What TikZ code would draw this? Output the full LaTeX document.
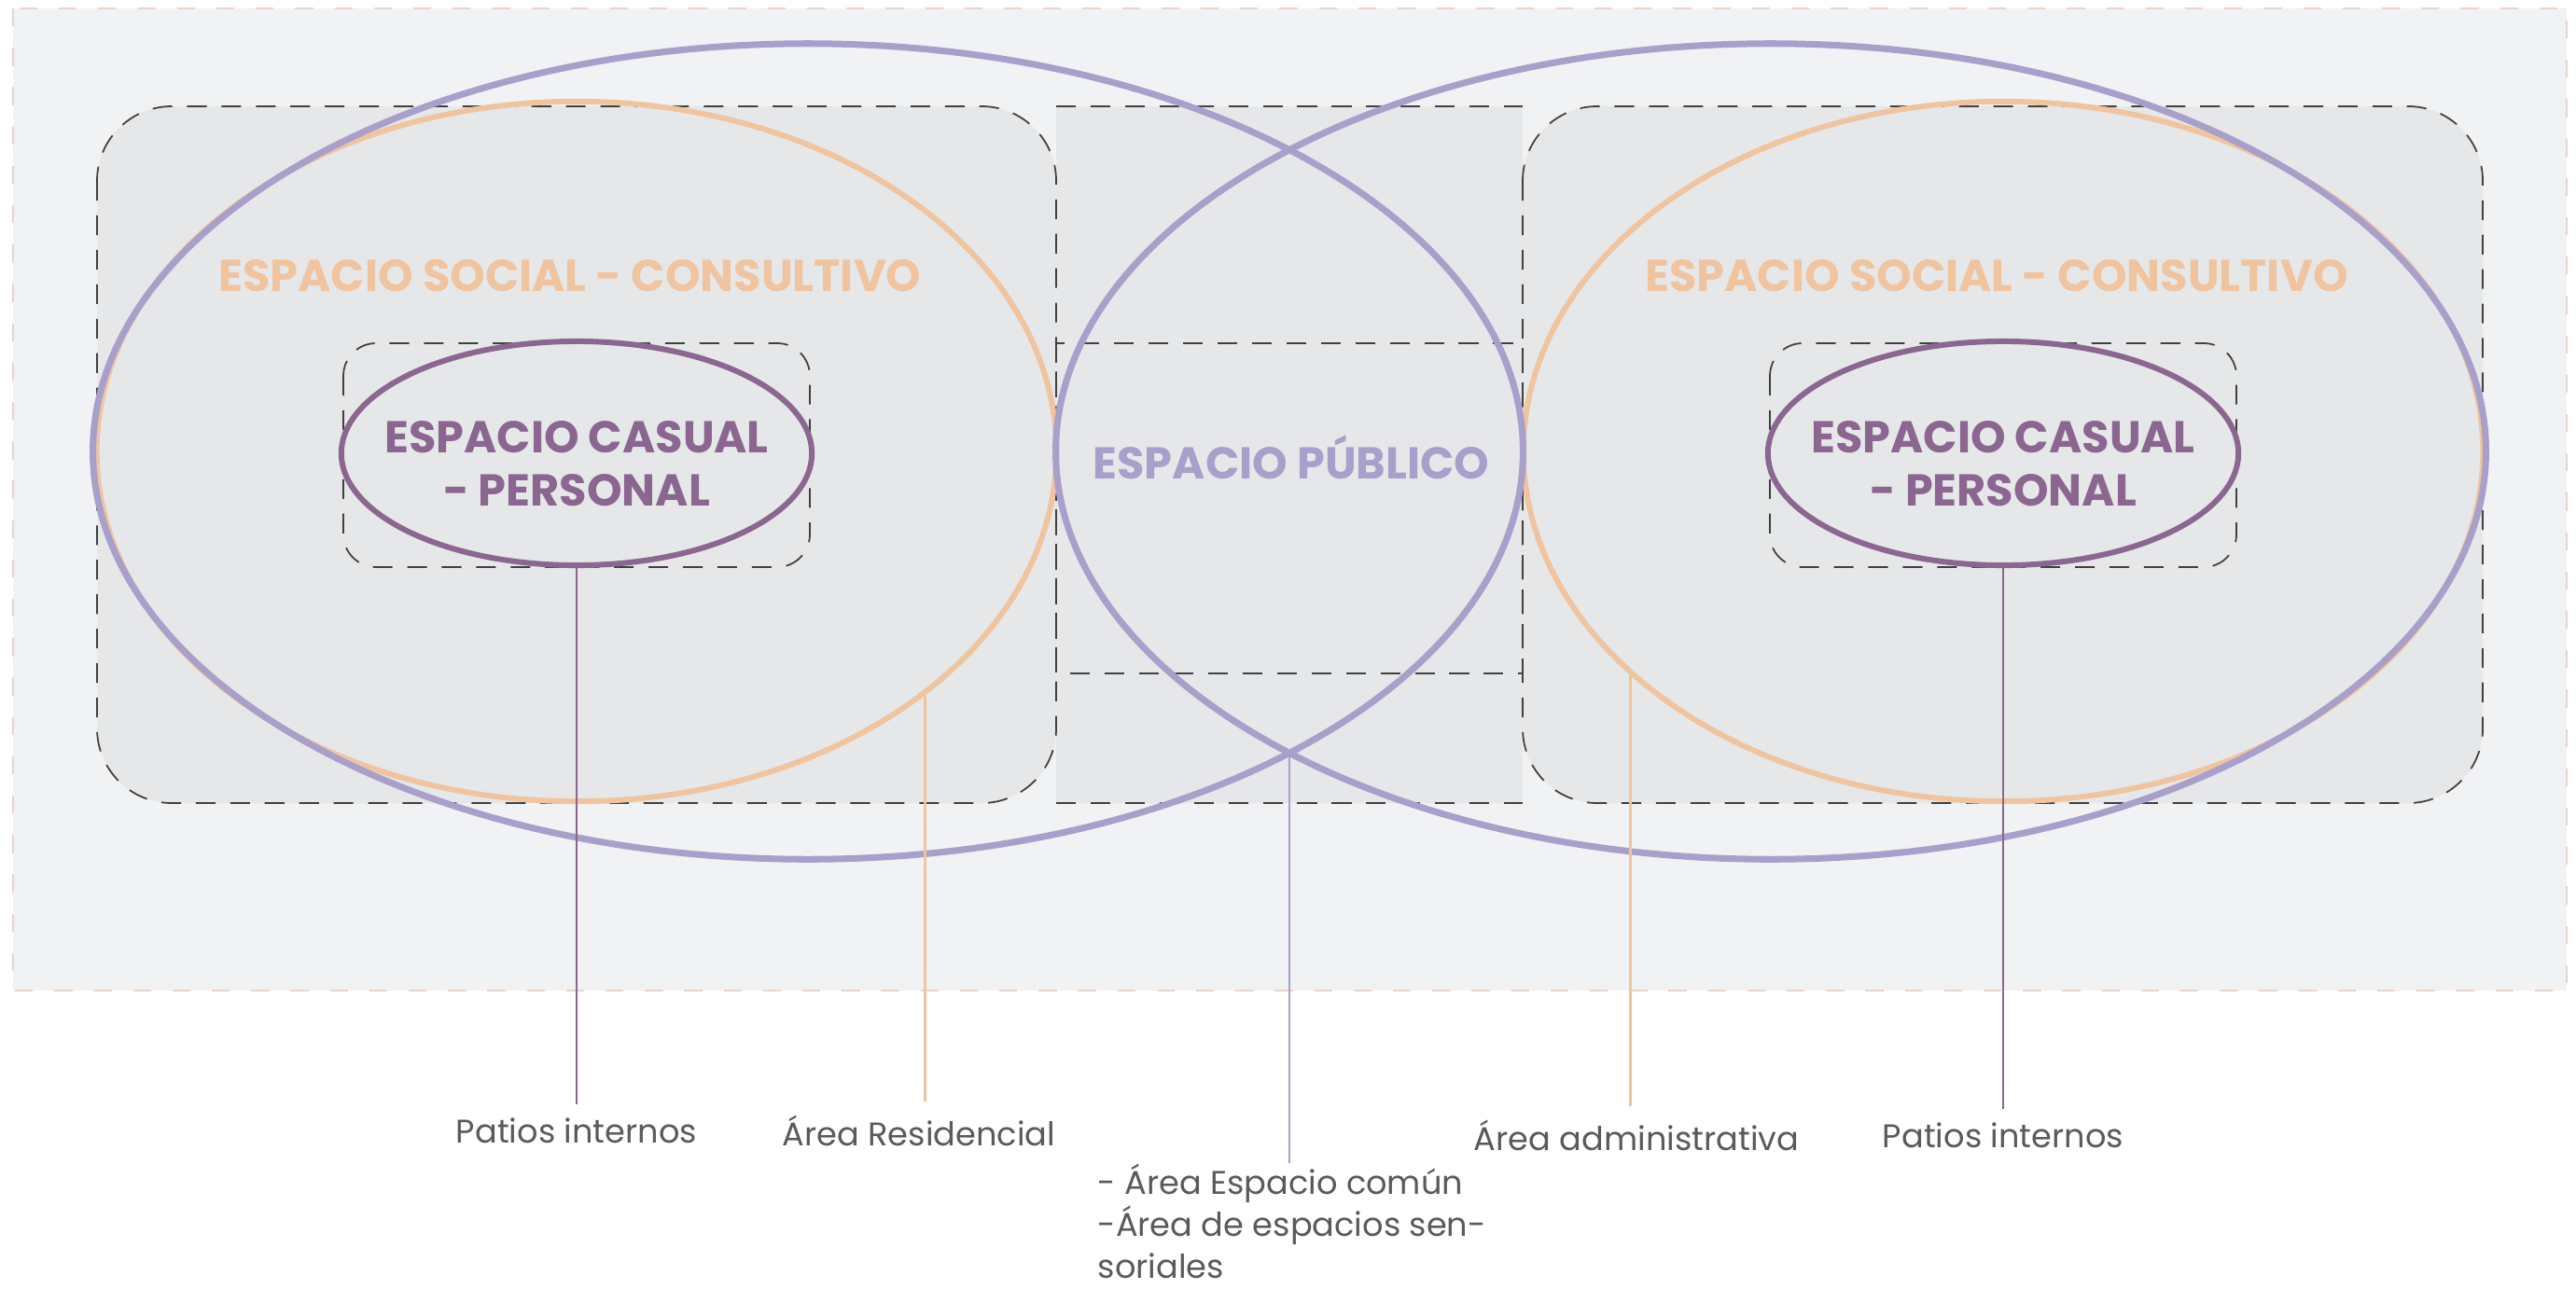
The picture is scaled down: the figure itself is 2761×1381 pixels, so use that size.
\documentclass[tikz,border=0pt]{standalone}
\usepackage{fontspec}
\setmainfont{Poppins}
\usepackage{xcolor}
\usepackage{tikz}
\usetikzlibrary{shapes.geometric, positioning}

\definecolor{lavanda}{HTML}{A99FCB}
\definecolor{durazno}{HTML}{F0C49E}
\definecolor{ciruela}{HTML}{8B6690}
\definecolor{fondo}{HTML}{F1F2F4}
\definecolor{zona}{HTML}{E6E7E9}
\definecolor{borde}{HTML}{EAD3C8}
\definecolor{gristexto}{HTML}{5A5A5A}

\begin{document}
\begin{tikzpicture}[x=0.01cm, y=-0.01cm]
        \tikzstyle{recuadro} = [fill=zona, draw=black!75, line width=0.5pt, dash pattern=on 6pt off 4.5pt]
        \tikzstyle{publico} = [ellipse, draw=lavanda, line width=2pt, minimum width=15.32cm, minimum height=8.74cm, inner sep=0pt]
        \tikzstyle{social} = [ellipse, draw=durazno, line width=1.7pt, minimum width=10.28cm, minimum height=7.5cm, inner sep=0pt]
        \tikzstyle{casual} = [ellipse, draw=ciruela, line width=1.7pt, minimum width=5.04cm, minimum height=2.4cm, inner sep=0pt]
        \tikzstyle{titulo} = [font=\bfseries\fontsize{13.6}{16}\selectfont]
        \tikzstyle{etiqueta} = [text=gristexto, font=\fontsize{10}{12.8}\selectfont, inner sep=4pt]
        \tikzstyle{guia} = [line width=0.8pt]

        \useasboundingbox (0,0) rectangle (2761,1381);

        % fondo general
        \draw [fill=fondo, draw=borde, line width=0.8pt, dash pattern=on 5.5pt off 6.5pt] (14,9) rectangle (2751,1062);

        % zonas punteadas
        \fill [zona] (1132,114) rectangle (1632,861);
        \draw [recuadro] (1132,114) -- (1632,114) (1132,861) -- (1632,861);
        \draw [recuadro, rounded corners=0.8cm] (104,114) rectangle (1132,861);
        \draw [recuadro, rounded corners=0.8cm] (1632,114) rectangle (2661,861);
        \draw [recuadro, fill=none] (1132,368) rectangle (1632,722);
        \draw [recuadro, rounded corners=0.35cm] (368,368) rectangle (868,608);
        \draw [recuadro, rounded corners=0.35cm] (1897,368) rectangle (2397,608);

        % elipses
        \node (socialL) [social] at (618,484) {};
        \node (socialR) [social] at (2147,484) {};
        \node (purpleL) [publico] at (866,484) {};
        \node (purpleR) [publico] at (1898,484) {};
        \node (casualL) [casual] at (618,486) {};
        \node (casualR) [casual] at (2147,486) {};

        \node (casualTxtL) [titulo, text=ciruela, align=center] at (618,497) {ESPACIO CASUAL\\- PERSONAL};
        \node (casualTxtR) [titulo, text=ciruela, align=center] at (2147,497) {ESPACIO CASUAL\\- PERSONAL};
        \node (socialTxtL) [titulo, text=durazno] at (611,296) {ESPACIO SOCIAL - CONSULTIVO};
        \node (socialTxtR) [titulo, text=durazno] at (2140,296) {ESPACIO SOCIAL - CONSULTIVO};
        \node (publicoTxt) [titulo, text=lavanda] at (1384,490) {ESPACIO PÚBLICO};

        % etiquetas
        \node (patiosL) [etiqueta] at (618,1212) {Patios internos};
        \node (resid) [etiqueta] at (985,1212) {Área Residencial};
        \node (comun) [etiqueta, anchor=north west, align=left, inner sep=0pt] at (1176,1247) {- Área Espacio común\\-Área de espacios sen-\\soriales};
        \node (admin) [etiqueta] at (1754,1217) {Área administrativa};
        \node (patiosR) [etiqueta] at (2147,1217) {Patios internos};

        \coordinate (cruce) at (1382,807);

        \draw [guia, ciruela] (casualL.south) -- (patiosL.north);
        \draw [guia, durazno] (socialL.-35.7) -- (socialL.-35.7 |- resid.north);
        \draw [guia, lavanda] (cruce) -- (cruce |- comun.north);
        \draw [guia, durazno] (socialR.211.5) -- (socialR.211.5 |- admin.north);
        \draw [guia, ciruela] (casualR.south) -- (patiosR.north);
    \end{tikzpicture}
\end{document}
